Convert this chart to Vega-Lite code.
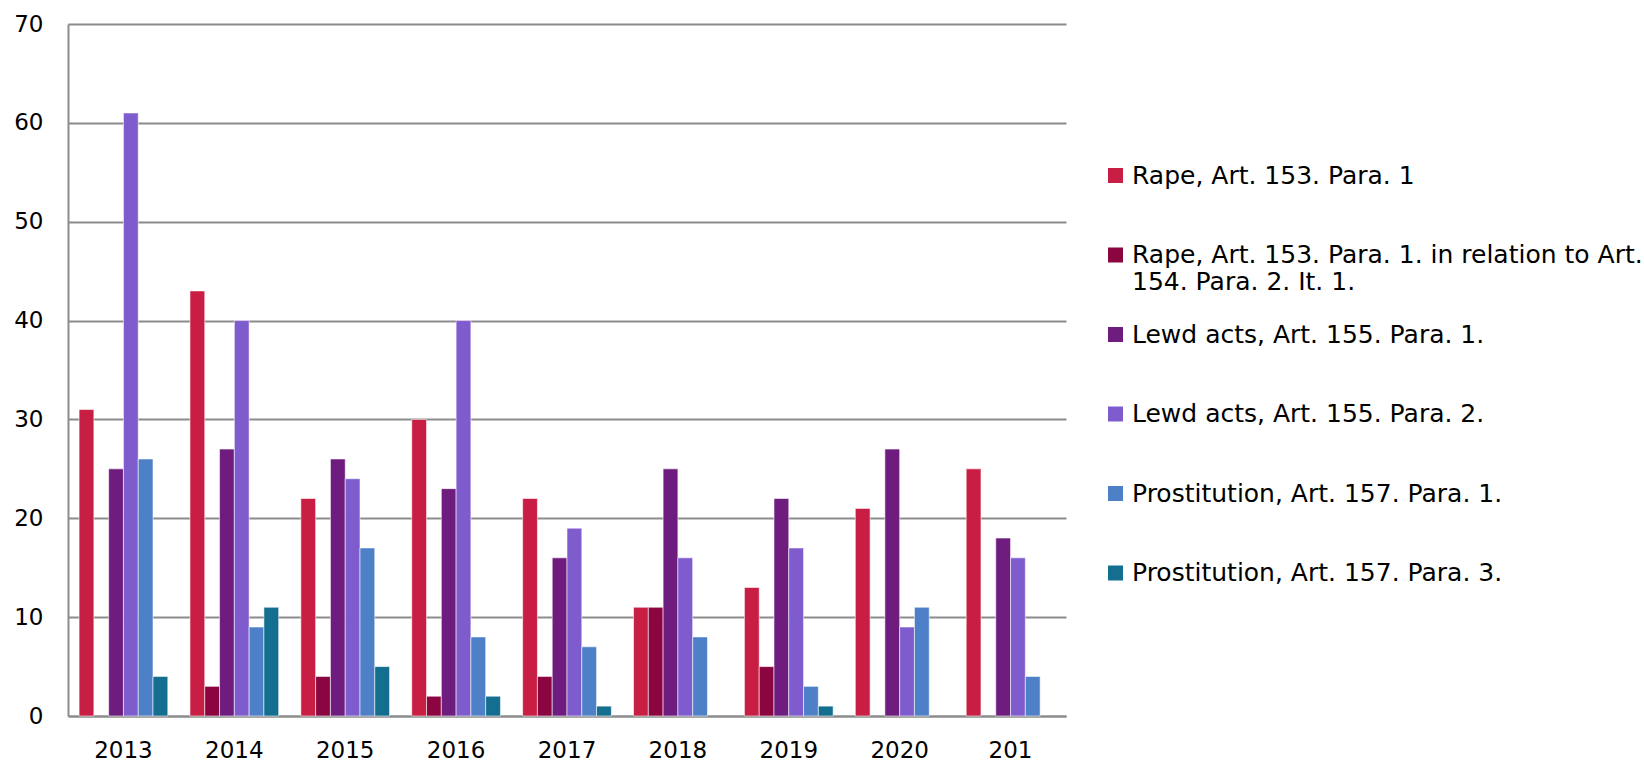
{
  "$schema": "https://vega.github.io/schema/vega-lite/v6.json",
  "autosize": {"type": "none"},
  "width": 998,
  "height": 692,
  "padding": {"left": 68, "top": 24, "right": 578, "bottom": 45},
  "background": "white",
  "config": {
    "view": {"stroke": null},
    "font": "DejaVu Sans"
  },
  "data": {
    "values": [
      {"year": "2013", "series": "Rape, Art. 153. Para. 1", "value": 31},
      {"year": "2013", "series": "Lewd acts, Art. 155. Para. 1.", "value": 25},
      {"year": "2013", "series": "Lewd acts, Art. 155. Para. 2.", "value": 61},
      {"year": "2013", "series": "Prostitution, Art. 157. Para. 1.", "value": 26},
      {"year": "2013", "series": "Prostitution, Art. 157. Para. 3.", "value": 4},
      {"year": "2014", "series": "Rape, Art. 153. Para. 1", "value": 43},
      {"year": "2014", "series": "Rape, Art. 153. Para. 1. in relation to Art. 154. Para. 2. It. 1.", "value": 3},
      {"year": "2014", "series": "Lewd acts, Art. 155. Para. 1.", "value": 27},
      {"year": "2014", "series": "Lewd acts, Art. 155. Para. 2.", "value": 40},
      {"year": "2014", "series": "Prostitution, Art. 157. Para. 1.", "value": 9},
      {"year": "2014", "series": "Prostitution, Art. 157. Para. 3.", "value": 11},
      {"year": "2015", "series": "Rape, Art. 153. Para. 1", "value": 22},
      {"year": "2015", "series": "Rape, Art. 153. Para. 1. in relation to Art. 154. Para. 2. It. 1.", "value": 4},
      {"year": "2015", "series": "Lewd acts, Art. 155. Para. 1.", "value": 26},
      {"year": "2015", "series": "Lewd acts, Art. 155. Para. 2.", "value": 24},
      {"year": "2015", "series": "Prostitution, Art. 157. Para. 1.", "value": 17},
      {"year": "2015", "series": "Prostitution, Art. 157. Para. 3.", "value": 5},
      {"year": "2016", "series": "Rape, Art. 153. Para. 1", "value": 30},
      {"year": "2016", "series": "Rape, Art. 153. Para. 1. in relation to Art. 154. Para. 2. It. 1.", "value": 2},
      {"year": "2016", "series": "Lewd acts, Art. 155. Para. 1.", "value": 23},
      {"year": "2016", "series": "Lewd acts, Art. 155. Para. 2.", "value": 40},
      {"year": "2016", "series": "Prostitution, Art. 157. Para. 1.", "value": 8},
      {"year": "2016", "series": "Prostitution, Art. 157. Para. 3.", "value": 2},
      {"year": "2017", "series": "Rape, Art. 153. Para. 1", "value": 22},
      {"year": "2017", "series": "Rape, Art. 153. Para. 1. in relation to Art. 154. Para. 2. It. 1.", "value": 4},
      {"year": "2017", "series": "Lewd acts, Art. 155. Para. 1.", "value": 16},
      {"year": "2017", "series": "Lewd acts, Art. 155. Para. 2.", "value": 19},
      {"year": "2017", "series": "Prostitution, Art. 157. Para. 1.", "value": 7},
      {"year": "2017", "series": "Prostitution, Art. 157. Para. 3.", "value": 1},
      {"year": "2018", "series": "Rape, Art. 153. Para. 1", "value": 11},
      {"year": "2018", "series": "Rape, Art. 153. Para. 1. in relation to Art. 154. Para. 2. It. 1.", "value": 11},
      {"year": "2018", "series": "Lewd acts, Art. 155. Para. 1.", "value": 25},
      {"year": "2018", "series": "Lewd acts, Art. 155. Para. 2.", "value": 16},
      {"year": "2018", "series": "Prostitution, Art. 157. Para. 1.", "value": 8},
      {"year": "2019", "series": "Rape, Art. 153. Para. 1", "value": 13},
      {"year": "2019", "series": "Rape, Art. 153. Para. 1. in relation to Art. 154. Para. 2. It. 1.", "value": 5},
      {"year": "2019", "series": "Lewd acts, Art. 155. Para. 1.", "value": 22},
      {"year": "2019", "series": "Lewd acts, Art. 155. Para. 2.", "value": 17},
      {"year": "2019", "series": "Prostitution, Art. 157. Para. 1.", "value": 3},
      {"year": "2019", "series": "Prostitution, Art. 157. Para. 3.", "value": 1},
      {"year": "2020", "series": "Rape, Art. 153. Para. 1", "value": 21},
      {"year": "2020", "series": "Lewd acts, Art. 155. Para. 1.", "value": 27},
      {"year": "2020", "series": "Lewd acts, Art. 155. Para. 2.", "value": 9},
      {"year": "2020", "series": "Prostitution, Art. 157. Para. 1.", "value": 11},
      {"year": "2021", "series": "Rape, Art. 153. Para. 1", "value": 25},
      {"year": "2021", "series": "Lewd acts, Art. 155. Para. 1.", "value": 18},
      {"year": "2021", "series": "Lewd acts, Art. 155. Para. 2.", "value": 16},
      {"year": "2021", "series": "Prostitution, Art. 157. Para. 1.", "value": 4}
    ]
  },
  "mark": {"type": "bar", "stroke": "#ffffff", "strokeWidth": 0.8, "strokeOpacity": 0.7},
  "encoding": {
    "x": {
      "field": "year",
      "type": "nominal",
      "sort": ["2013", "2014", "2015", "2016", "2017", "2018", "2019", "2020", "2021"],
      "scale": {"paddingInner": 0.2, "paddingOuter": 0.1},
      "axis": {
        "title": null,
        "labelAngle": 0,
        "labelFontSize": 23,
        "labelColor": "#000000",
        "labelPadding": 34,
        "labelBaseline": "middle",
        "ticks": false,
        "domainColor": "#8c8c8c",
        "domainWidth": 2,
        "labelExpr": "datum.label == '2021' ? '201' : datum.label"
      }
    },
    "xOffset": {
      "field": "series",
      "type": "nominal",
      "sort": [
        "Rape, Art. 153. Para. 1",
        "Rape, Art. 153. Para. 1. in relation to Art. 154. Para. 2. It. 1.",
        "Lewd acts, Art. 155. Para. 1.",
        "Lewd acts, Art. 155. Para. 2.",
        "Prostitution, Art. 157. Para. 1.",
        "Prostitution, Art. 157. Para. 3."
      ],
      "scale": {"paddingInner": 0, "paddingOuter": 0}
    },
    "y": {
      "field": "value",
      "type": "quantitative",
      "scale": {"domain": [0, 70], "nice": false},
      "axis": {
        "title": null,
        "values": [0, 10, 20, 30, 40, 50, 60, 70],
        "labelFontSize": 23,
        "labelColor": "#000000",
        "labelPadding": 25,
        "ticks": false,
        "domainColor": "#8c8c8c",
        "domainWidth": 2,
        "gridColor": "#8c8c8c",
        "gridWidth": 2
      }
    },
    "color": {
      "field": "series",
      "type": "nominal",
      "sort": [
        "Rape, Art. 153. Para. 1",
        "Rape, Art. 153. Para. 1. in relation to Art. 154. Para. 2. It. 1.",
        "Lewd acts, Art. 155. Para. 1.",
        "Lewd acts, Art. 155. Para. 2.",
        "Prostitution, Art. 157. Para. 1.",
        "Prostitution, Art. 157. Para. 3."
      ],
      "scale": {
        "domain": [
          "Rape, Art. 153. Para. 1",
          "Rape, Art. 153. Para. 1. in relation to Art. 154. Para. 2. It. 1.",
          "Lewd acts, Art. 155. Para. 1.",
          "Lewd acts, Art. 155. Para. 2.",
          "Prostitution, Art. 157. Para. 1.",
          "Prostitution, Art. 157. Para. 3."
        ],
        "range": ["#C91E44", "#8B0641", "#6E1C7E", "#7E5CCE", "#4E80C8", "#136E90"]
      },
      "legend": {
        "orient": "none",
        "legendX": 1035,
        "legendY": 139,
        "title": null,
        "padding": 0,
        "gridAlign": "all",
        "symbolType": "square",
        "symbolSize": 225,
        "symbolStrokeWidth": 0,
        "symbolOpacity": 1,
        "labelFontSize": 25,
        "labelColor": "#000000",
        "labelLimit": 700,
        "labelOffset": 4,
        "rowPadding": 26.5,
        "labelExpr": "datum.label == 'Rape, Art. 153. Para. 1. in relation to Art. 154. Para. 2. It. 1.' ? ['Rape, Art. 153. Para. 1. in relation to Art.', '154. Para. 2. It. 1.'] : datum.label",
        "encode": {"labels": {"update": {"lineHeight": {"value": 26}}}}
      }
    }
  }
}
